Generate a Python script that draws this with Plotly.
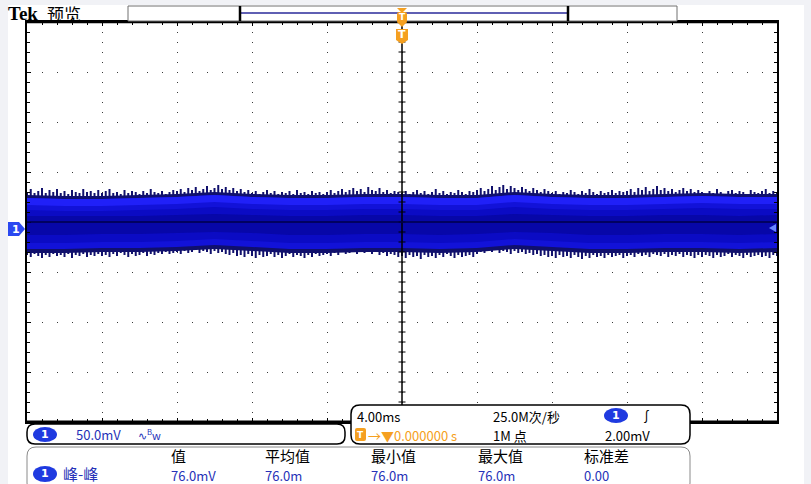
import numpy as np
import plotly.graph_objects as go

# ---- waveform data (mV) ----
# peak envelope (min / max per column), one value every 0.2 ms from -20 ms to +20 ms
upper_peak = [30, 33, 29, 31, 34, 29, 32, 30, 33, 29, 31, 28, 32, 30, 29, 33, 30, 31, 29, 32,
              29, 31, 33, 29, 30, 28, 32, 29, 31, 30, 28, 31, 29, 33, 30, 29, 31, 28, 30, 32,
              31, 33, 30, 34, 32, 35, 31, 33, 36, 32, 34, 37, 33, 35, 32, 34, 31, 33, 30, 32,
              29, 31, 28, 30, 32, 29, 31, 28, 30, 29, 31, 28, 32, 29, 30, 28, 31, 29, 30, 28,
              30, 32, 29, 31, 33, 30, 32, 34, 31, 33, 30, 35, 32, 31, 34, 30, 32, 29, 31, 30,
              29, 31, 28, 30, 32, 29, 31, 28, 30, 33, 29, 31, 28, 30, 29, 32, 30, 28, 31, 30,
              32, 34, 31, 33, 36, 32, 35, 37, 33, 36, 34, 32, 35, 33, 31, 34, 32, 30, 33, 31,
              29, 31, 28, 30, 29, 32, 30, 28, 31, 29, 33, 30, 28, 31, 29, 30, 32, 29, 31, 30,
              31, 33, 30, 34, 32, 35, 31, 33, 36, 32, 34, 31, 33, 30, 32, 34, 31, 33, 30, 32,
              30, 28, 31, 29, 33, 30, 28, 31, 32, 29, 31, 30, 28, 32, 30, 29, 31, 33, 29, 31,
              30]
lower_peak = [-33, -35, -32, -34, -36, -33, -35, -32, -34, -33, -35, -32, -36, -33, -34, -32, -35, -33, -34, -32,
              -34, -33, -35, -32, -34, -31, -33, -35, -32, -34, -33, -31, -34, -32, -33, -31, -32, -30, -32, -31,
              -30, -32, -29, -31, -30, -28, -31, -29, -30, -32, -29, -31, -30, -32, -33, -31, -34, -33, -35, -32,
              -34, -36, -33, -35, -34, -32, -35, -33, -36, -34, -32, -35, -33, -34, -36, -33, -35, -32, -34, -33,
              -32, -34, -31, -33, -30, -32, -31, -29, -32, -30, -31, -29, -32, -30, -33, -31, -34, -32, -33, -35,
              -34, -36, -33, -35, -34, -37, -33, -35, -34, -36, -33, -35, -32, -34, -36, -33, -35, -34, -33, -35,
              -32, -30, -31, -29, -30, -28, -31, -29, -30, -32, -29, -31, -30, -32, -31, -33, -32, -34, -33, -35,
              -34, -36, -33, -35, -34, -36, -33, -35, -37, -34, -36, -33, -35, -34, -36, -33, -35, -34, -33, -36,
              -34, -33, -35, -32, -34, -33, -35, -32, -33, -34, -32, -35, -33, -34, -32, -35, -33, -34, -36, -33,
              -35, -33, -34, -36, -33, -35, -34, -32, -35, -33, -34, -36, -33, -35, -34, -33, -35, -34, -36, -33,
              -34]

# intensity bands, one value every 2 ms
t_band = [-20, -18, -16, -14, -12, -10, -8, -6, -4, -2, 0,
          2, 4, 6, 8, 10, 12, 14, 16, 18, 20]
dense_top = [27, 26, 26, 27, 28, 30, 28, 27, 27, 28, 28, 27, 27, 30, 28, 27, 27, 28, 29, 28, 28]
dense_bot = [-31, -31, -30, -30, -29, -27, -29, -31, -31, -30, -30, -31, -30, -27, -29, -31, -31, -30, -30, -31, -30]
upper_body = [24, 23, 23, 24, 25, 27, 25, 24, 24, 25, 25, 24, 24, 27, 25, 24, 24, 25, 26, 25, 25]
bright_bot = [17, 16, 16, 17, 18, 20, 18, 17, 17, 18, 18, 17, 17, 20, 18, 17, 17, 18, 19, 18, 18]
lower_body = [-27, -27, -26, -26, -25, -23, -25, -27, -27, -26, -26, -27, -26, -23, -25, -27, -27, -26, -26, -27, -26]
mid_top = [12, 11, 11, 12, 13, 15, 13, 12, 12, 13, 13, 12, 12, 15, 13, 12, 12, 13, 14, 13, 13]
mid_bot = [-21, -21, -20, -20, -19, -17, -19, -21, -21, -20, -20, -21, -20, -17, -19, -21, -21, -20, -20, -21, -20]
core_top = [6, 6, 6, 6, 7, 8, 7, 6, 6, 7, 7, 6, 6, 8, 7, 6, 6, 7, 7, 6, 7]
core_bot = [-13, -13, -12, -12, -11, -10, -11, -13, -13, -12, -12, -13, -12, -10, -11, -13, -13, -12, -12, -13, -12]

t_peak = list(np.linspace(-20, 20, len(upper_peak)))

# readouts
ch_scale = "50.0mV"
timebase = "4.00ms"
sample_rate = "25.0M次/秒"
rec_len = "1M 点"
trig_level = "2.00mV"
trig_pos = "0.000000 s"
meas_heads = ["值", "平均值", "最小值", "最大值", "标准差"]
meas_vals = ["76.0mV", "76.0m", "76.0m", "76.0m", "0.00"]

BLUE = "#1f3ae0"
TXT_BLUE = "#2632b8"
ORANGE = "#f5a020"
NAVY = "#10106c"
CJK = "Noto Sans CJK SC"

# plot area in screen pixels
PX0, PX1, PY0, PY1 = 27, 777, 22, 422


def fx(p):
    return (p - PX0) / (PX1 - PX0)


def fy(p):
    return (PY1 - p) / (PY1 - PY0)


def rrect(x0, y0, x1, y1, r):
    return (f"M {fx(x0 + r)},{fy(y0)} L {fx(x1 - r)},{fy(y0)} "
            f"Q {fx(x1)},{fy(y0)} {fx(x1)},{fy(y0 + r)} L {fx(x1)},{fy(y1 - r)} "
            f"Q {fx(x1)},{fy(y1)} {fx(x1 - r)},{fy(y1)} L {fx(x0 + r)},{fy(y1)} "
            f"Q {fx(x0)},{fy(y1)} {fx(x0)},{fy(y1 - r)} L {fx(x0)},{fy(y0 + r)} "
            f"Q {fx(x0)},{fy(y0)} {fx(x0 + r)},{fy(y0)} Z")


def poly(pts):
    return "M " + " L ".join(f"{fx(a)},{fy(b)}" for a, b in pts) + " Z"


def band(t, top, bot, color):
    return go.Scatter(x=list(t) + list(t)[::-1], y=list(top) + list(bot)[::-1],
                      fill="toself", fillcolor=color, mode="lines",
                      line=dict(width=0), hoverinfo="skip", showlegend=False)


# min/max needles, one vertical stroke per column
hx, hy = [], []
for t, lo, hi in zip(t_peak, lower_peak, upper_peak):
    hx += [t, t, None]
    hy += [lo, hi, None]

fig = go.Figure()
fig.add_trace(go.Scatter(x=hx, y=hy, mode="lines", line=dict(color=NAVY, width=2),
                         hoverinfo="skip", showlegend=False))
fig.add_trace(band(t_band, dense_top, dense_bot, NAVY))
fig.add_trace(band(t_band, upper_body, lower_body, "#1212d8"))
fig.add_trace(band(t_band, upper_body, bright_bot, "#2020f8"))
fig.add_trace(band(t_band, mid_top, mid_bot, "#0b0bc4"))
fig.add_trace(band(t_band, core_top, core_bot, "#0707a8"))

# graticule ticks along the centre vertical line
fig.add_trace(go.Scatter(x=[0] * 41, y=list(np.arange(-200, 201, 10)), mode="markers",
                         marker=dict(symbol="line-ew", size=5, line=dict(width=1, color="black")),
                         hoverinfo="skip", showlegend=False))

shapes = [
    # white screen area over grey border
    dict(type="rect", xref="paper", yref="paper", x0=fx(8), x1=fx(804), y0=fy(5), y1=fy(490),
         fillcolor="white", line=dict(width=0), layer="below"),
    # centre lines
    dict(type="line", xref="x", yref="paper", x0=0, x1=0, y0=0, y1=1,
         line=dict(color="black", width=1.5), layer="above"),
    dict(type="line", xref="paper", yref="y", x0=0, x1=1, y0=0, y1=0,
         line=dict(color="#00004a", width=1.5), layer="above"),
    # thick top / bottom frame
    dict(type="line", xref="paper", yref="paper", x0=0, x1=1, y0=1, y1=1,
         line=dict(color="black", width=2.5)),
    dict(type="line", xref="paper", yref="paper", x0=0, x1=1, y0=0, y1=0,
         line=dict(color="black", width=3)),
    # record view bar
    dict(type="rect", xref="paper", yref="paper", x0=fx(128), x1=fx(677), y0=fy(21), y1=fy(6),
         fillcolor="white", line=dict(color="#707070", width=1)),
    dict(type="line", xref="paper", yref="paper", x0=fx(240), x1=fx(568), y0=fy(13), y1=fy(13),
         line=dict(color="#2a2a9a", width=1.5)),
    dict(type="line", xref="paper", yref="paper", x0=fx(240), x1=fx(240), y0=fy(21), y1=fy(6),
         line=dict(color="black", width=2.5)),
    dict(type="line", xref="paper", yref="paper", x0=fx(568), x1=fx(568), y0=fy(21), y1=fy(6),
         line=dict(color="black", width=2.5)),
    # trigger markers
    dict(type="path", xref="paper", yref="paper",
         path=poly([(397, 8), (407, 8), (402, 13)]), fillcolor=ORANGE, line=dict(width=0)),
    dict(type="path", xref="paper", yref="paper", path=rrect(397, 12, 407, 23, 2),
         fillcolor=ORANGE, line=dict(width=0)),
    dict(type="path", xref="paper", yref="paper",
         path=poly([(397, 22), (407, 22), (402, 27)]), fillcolor=ORANGE, line=dict(width=0)),
    dict(type="path", xref="paper", yref="paper",
         path=poly([(396, 29), (408, 29), (408, 40), (402, 44), (396, 40)]),
         fillcolor=ORANGE, line=dict(width=0)),
    # channel 1 ground marker
    dict(type="path", xref="paper", yref="paper",
         path=poly([(8, 222), (19, 222), (25, 229), (19, 236), (8, 236)]),
         fillcolor="#2a48f0", line=dict(width=0)),
    dict(type="path", xref="paper", yref="paper",
         path=poly([(776, 224), (776, 232), (769, 228)]),
         fillcolor="#6a88ff", line=dict(width=0), layer="above"),
    # readout boxes
    dict(type="path", xref="paper", yref="paper", path=rrect(27, 424, 345, 444, 8),
         fillcolor="white", line=dict(color="black", width=1.5)),
    dict(type="path", xref="paper", yref="paper", path=rrect(351, 405, 690, 444, 9),
         fillcolor="white", line=dict(color="black", width=1.5)),
    dict(type="path", xref="paper", yref="paper", path=rrect(27, 447, 690, 492, 9),
         fillcolor="white", line=dict(color="#8a8a8a", width=1)),
    # pills
    dict(type="circle", xref="paper", yref="paper", x0=fx(33), x1=fx(57), y0=fy(442), y1=fy(427),
         fillcolor=BLUE, line=dict(width=0)),
    dict(type="circle", xref="paper", yref="paper", x0=fx(604), x1=fx(628), y0=fy(423), y1=fy(408),
         fillcolor=BLUE, line=dict(width=0)),
    dict(type="circle", xref="paper", yref="paper", x0=fx(33), x1=fx(57), y0=fy(482), y1=fy(466),
         fillcolor=BLUE, line=dict(width=0)),
    dict(type="path", xref="paper", yref="paper", path=rrect(355, 428, 366, 441, 2),
         fillcolor=ORANGE, line=dict(width=0)),
]


def txt(x, y, s, size=13, color="black", family=CJK, anchor="left"):
    return dict(x=fx(x), y=fy(y), xref="paper", yref="paper", text=s, showarrow=False,
                xanchor=anchor, yanchor="middle", font=dict(size=size, color=color, family=family))


annotations = [
    txt(6, 14, "<b>Tek</b>", 19, family="Liberation Serif"),
    txt(45, 14, "预览", 17),
    txt(402, 17, "<b>T</b>", 9, "white", "DejaVu Sans", "center"),
    txt(402, 35, "<b>T</b>", 11, "white", "DejaVu Sans", "center"),
    txt(16, 229, "<b>1</b>", 11, "white", "DejaVu Sans", "center"),
    txt(45, 434, "<b>1</b>", 11, "white", "DejaVu Sans", "center"),
    txt(74, 434, ch_scale, 13, TXT_BLUE),
    txt(136, 434, "∿<sup>B</sup>w", 11, TXT_BLUE),
    txt(355, 416, timebase, 13),
    txt(491, 416, sample_rate, 13),
    txt(616, 415, "<b>1</b>", 11, "white", "DejaVu Sans", "center"),
    txt(638, 415, "∫", 13),
    txt(360, 435, "<b>T</b>", 9, "white", "DejaVu Sans", "center"),
    txt(366, 435, "→▼" + trig_pos, 13, ORANGE),
    txt(491, 435, rec_len, 13),
    txt(603, 435, trig_level, 13),
    txt(45, 474, "<b>1</b>", 11, "white", "DejaVu Sans", "center"),
    txt(61, 474, "峰-峰", 15, TXT_BLUE),
]
head_x = [169, 263, 369, 476, 582]
for hx_, h, v in zip(head_x, meas_heads, meas_vals):
    annotations.append(txt(hx_, 455, h, 15))
    annotations.append(txt(hx_, 475, v, 13, TXT_BLUE))

fig.update_layout(
    width=811, height=484, autosize=False,
    margin=dict(l=PX0, r=811 - PX1, t=PY0, b=484 - PY1, pad=0),
    paper_bgcolor="#f1f2f6", plot_bgcolor="white",
    shapes=shapes, annotations=annotations, showlegend=False,
    xaxis=dict(range=[-20, 20], dtick=4, showticklabels=False, zeroline=False,
               showgrid=True, gridcolor="#3a3a3a", gridwidth=1, griddash="1px,9px",
               showline=True, linecolor="black", linewidth=1.5, mirror="allticks",
               ticks="inside", ticklen=4, tickcolor="black",
               minor=dict(dtick=0.8, ticks="inside", ticklen=3, tickcolor="black", showgrid=False)),
    yaxis=dict(range=[-200, 200], dtick=50, showticklabels=False, zeroline=False,
               showgrid=True, gridcolor="#3a3a3a", gridwidth=1, griddash="1px,14px",
               showline=True, linecolor="black", linewidth=1.5, mirror="allticks",
               ticks="inside", ticklen=4, tickcolor="black",
               minor=dict(dtick=10, ticks="inside", ticklen=3, tickcolor="black", showgrid=False)),
)

fig.write_html("out.html", config={"displayModeBar": False},
               post_script="document.body.style.margin='0';")
